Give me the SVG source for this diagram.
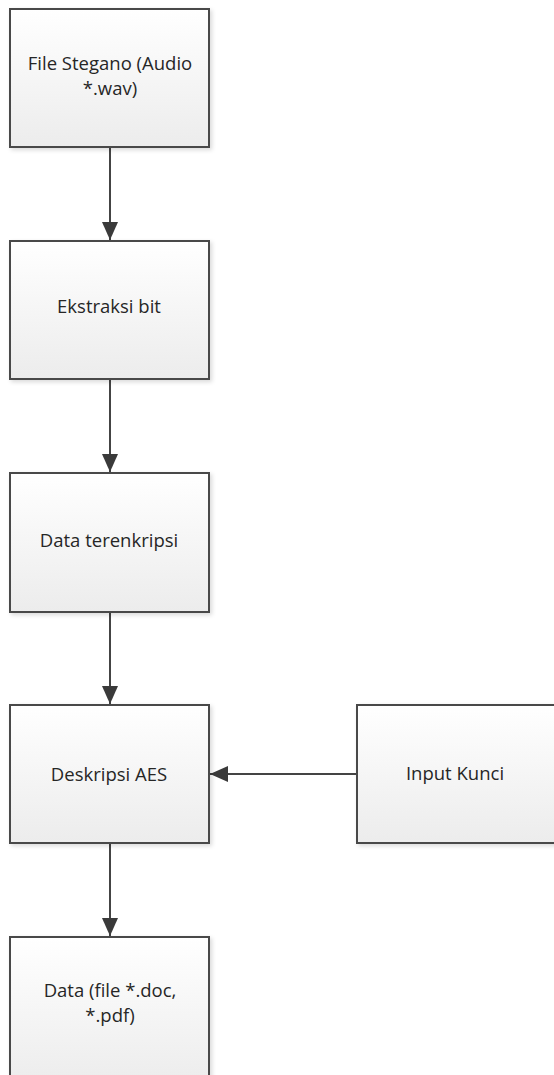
<svg xmlns="http://www.w3.org/2000/svg" width="554" height="1075" viewBox="0 0 554 1075">
<style>
.box{fill:url(#g);stroke:#4a4a4a;stroke-width:2;filter:url(#sh)}
.t{font-family:"Open Sans","Noto Sans",sans-serif;font-size:18.5px;fill:#262626;text-anchor:middle}
.c{stroke:#444;stroke-width:2;fill:none;marker-end:url(#ah)}
</style>
<defs>
<linearGradient id="g" x1="0" y1="0" x2="0" y2="1">
<stop offset="0" stop-color="#ffffff"/>
<stop offset="1" stop-color="#ececec"/>
</linearGradient>
<filter id="sh" x="-10%" y="-10%" width="125%" height="125%">
<feDropShadow dx="2" dy="2" stdDeviation="2" flood-color="#000" flood-opacity="0.15"/>
</filter>
<marker id="ah" markerWidth="18" markerHeight="16" refX="18" refY="8" orient="auto" markerUnits="userSpaceOnUse">
<path d="M0,0 L18,8 L0,16 Z" fill="#3a3a3a"/>
</marker>
</defs>
<g id="connectors">
<line class="c" x1="110" y1="147" x2="110" y2="240"/>
<line class="c" x1="110" y1="379" x2="110" y2="472"/>
<line class="c" x1="110" y1="612" x2="110" y2="704"/>
<line class="c" x1="110" y1="843" x2="110" y2="936"/>
<line class="c" x1="357" y1="774" x2="210" y2="774"/>
</g>
<g id="n1"><rect class="box" x="10" y="9" width="199" height="138"/>
<text class="t" x="110" y="70">File Stegano (Audio</text><text class="t" x="110" y="95">*.wav)</text></g>
<g id="n2"><rect class="box" x="10" y="241" width="199" height="138"/>
<text class="t" x="109" y="313">Ekstraksi bit</text></g>
<g id="n3"><rect class="box" x="10" y="473" width="199" height="139"/>
<text class="t" x="109" y="547">Data terenkripsi</text></g>
<g id="n4"><rect class="box" x="10" y="705" width="199" height="138"/>
<text class="t" x="109" y="781">Deskripsi AES</text></g>
<g id="n5"><rect class="box" x="357" y="705" width="210" height="138"/>
<text class="t" x="455" y="780">Input Kunci</text></g>
<g id="n6"><rect class="box" x="10" y="937" width="199" height="150"/>
<text class="t" x="110" y="997">Data (file *.doc,</text><text class="t" x="110" y="1022">*.pdf)</text></g>
</svg>
